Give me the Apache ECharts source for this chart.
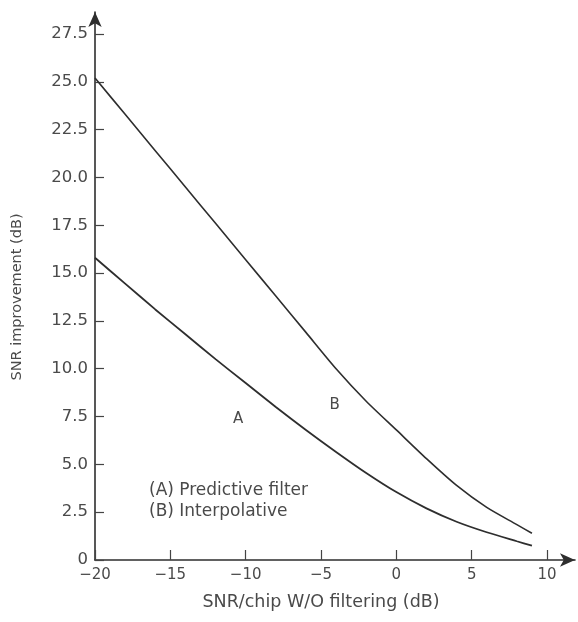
<!DOCTYPE html>
<html>
<head>
<meta charset="utf-8">
<script src="https://cdn.jsdelivr.net/npm/echarts@6/dist/echarts.min.js"></script>
<style>
  html, body { margin: 0; padding: 0; background: #ffffff; }
  #chart { width: 578px; height: 622px; }
</style>
</head>
<body>
<div id="chart"></div>
<script>
// SNR per chip without filtering (dB)
var snrChip = [-20, -18, -16, -14, -12, -10, -8, -6, -4, -2, 0, 2, 4, 6, 8, 9];
// (A) Predictive filter: SNR improvement (dB)
var predictive = [15.8, 14.45, 13.1, 11.8, 10.5, 9.25, 8.0, 6.8, 5.65, 4.55, 3.55, 2.7, 2.0, 1.45, 0.98, 0.75];
// (B) Interpolative filter: SNR improvement (dB)
var interpolative = [25.2, 23.3, 21.4, 19.5, 17.6, 15.7, 13.8, 11.9, 10.0, 8.3, 6.8, 5.3, 3.9, 2.75, 1.85, 1.4];

var xTicks = [-20, -15, -10, -5, 0, 5, 10];
var yTicks = [0, 2.5, 5, 7.5, 10, 12.5, 15, 17.5, 20, 22.5, 25, 27.5];

var curveLabels = [
  { name: 'A', coord: [-10.5, 7.35] },
  { name: 'B', coord: [-4.1, 8.1] }
];

function pairs(xs, ys) {
  return xs.map(function (x, i) { return [x, ys[i]]; });
}

var ink = '#2e2e2e';
var textInk = '#4a4a4a';
var font = 'DejaVu Sans';

var chart = echarts.init(document.getElementById('chart'), null, { renderer: 'canvas' });

chart.setOption({
  backgroundColor: '#ffffff',
  animation: false,
  grid: [
    { left: 95, right: 31, top: 34, bottom: 62, containLabel: false },
    { left: 95, right: 3, top: 12, bottom: 62, containLabel: false }
  ],
  xAxis: [
    {
      type: 'value', gridIndex: 0,
      min: xTicks[0], max: xTicks[xTicks.length - 1], interval: 5,
      axisLine: { show: false, onZero: false },
      axisTick: { show: true, inside: true, length: 10, lineStyle: { color: '#444', width: 1.2 } },
      axisLabel: {
        color: textInk, fontFamily: font, fontSize: 15, margin: 8,
        formatter: function (v) { return v < 0 ? '\u2212' + Math.abs(v) : String(v); }
      },
      splitLine: { show: false },
      name: 'SNR/chip W/O filtering (dB)',
      nameLocation: 'middle', nameGap: 33,
      nameTextStyle: { color: textInk, fontFamily: font, fontSize: 17.5 }
    },
    {
      type: 'value', gridIndex: 1, min: 0, max: 1,
      axisLine: { show: true, onZero: false, symbol: ['none', 'arrow'], symbolSize: [10, 15], lineStyle: { color: ink, width: 1.6 } },
      axisTick: { show: false }, axisLabel: { show: false }, splitLine: { show: false }
    }
  ],
  yAxis: [
    {
      type: 'value', gridIndex: 0,
      min: yTicks[0], max: yTicks[yTicks.length - 1], interval: 2.5,
      axisLine: { show: false, onZero: false },
      axisTick: { show: true, inside: true, length: 9, lineStyle: { color: '#444', width: 1.2 } },
      axisLabel: {
        color: textInk, fontFamily: font, fontSize: 16.5, margin: 7,
        formatter: function (v) { return v === 0 ? '0' : v.toFixed(1); }
      },
      splitLine: { show: false },
      name: 'SNR improvement (dB)',
      nameLocation: 'middle', nameGap: 70, nameRotate: 90,
      nameTextStyle: { color: textInk, fontFamily: font, fontSize: 14.5 }
    },
    {
      type: 'value', gridIndex: 1, min: 0, max: 1,
      axisLine: { show: true, onZero: false, symbol: ['none', 'arrow'], symbolSize: [10, 15], lineStyle: { color: ink, width: 1.6 } },
      axisTick: { show: false }, axisLabel: { show: false }, splitLine: { show: false }
    }
  ],
  series: [
    {
      name: '(A) Predictive filter',
      type: 'line', xAxisIndex: 0, yAxisIndex: 0,
      data: pairs(snrChip, predictive),
      smooth: 0.25, showSymbol: false,
      lineStyle: { color: ink, width: 1.8 },
      markPoint: {
        symbol: 'circle', symbolSize: 0,
        label: { show: true, formatter: '{b}', color: textInk, fontFamily: font, fontSize: 15 },
        data: [curveLabels[0]]
      }
    },
    {
      name: '(B) Interpolative',
      type: 'line', xAxisIndex: 0, yAxisIndex: 0,
      data: pairs(snrChip, interpolative),
      smooth: 0.25, showSymbol: false,
      lineStyle: { color: ink, width: 1.6 },
      markPoint: {
        symbol: 'circle', symbolSize: 0,
        label: { show: true, formatter: '{b}', color: textInk, fontFamily: font, fontSize: 15 },
        data: [curveLabels[1]]
      }
    }
  ],
  graphic: [
    {
      type: 'text', left: 149, top: 482,
      style: { text: '(A) Predictive filter', fill: textInk, font: '17px "DejaVu Sans"' }
    },
    {
      type: 'text', left: 149, top: 503,
      style: { text: '(B) Interpolative', fill: textInk, font: '17px "DejaVu Sans"' }
    }
  ]
});
</script>
</body>
</html>
